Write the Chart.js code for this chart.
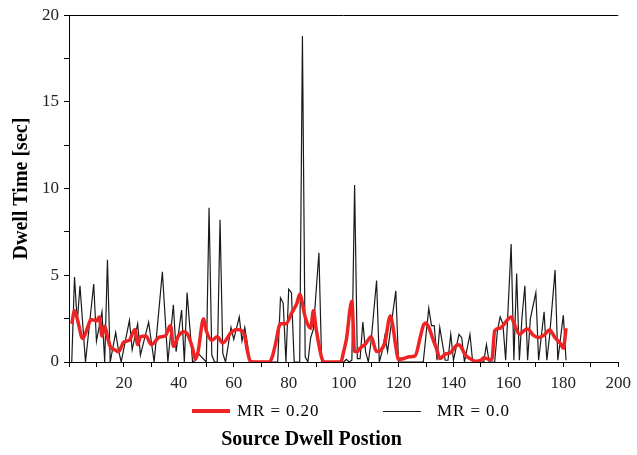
<!DOCTYPE html>
<html>
<head>
<meta charset="utf-8">
<script src="https://cdn.jsdelivr.net/npm/chart.js@4.4.1/dist/chart.umd.min.js"></script>
<style>
html, body { margin: 0; padding: 0; background: #fff; }
#wrap { position: relative; width: 637px; height: 455px; }
.key { position: absolute; top: 400px; height: 22px; display: flex; align-items: center;
       font: 17px 'Liberation Serif', serif; letter-spacing: 0.9px; color: #000; white-space: nowrap; }
.key i { display: inline-block; width: 38px; }
#key0 { left: 192px; }
#key0 i { height: 4px; margin-right: 7px; }
#key1 { left: 383px; }
#key1 i { height: 1px; margin-right: 16px; }
</style>
</head>
<body>
<div id="wrap">
  <canvas id="dwell-chart" width="637" height="455"></canvas>
  <div id="key0" class="key"><i></i><span></span></div>
  <div id="key1" class="key"><i></i><span></span></div>
</div>
<script>
// MR = 0.0 (thin black) - dwell position / dwell time [s]
var mr0Pos = [1, 2, 3, 4, 6, 9, 10, 12, 13, 14,
    15, 17, 18, 19, 22, 23, 25, 26, 29, 31,
    34, 36, 38, 39, 41, 42, 43, 45, 46, 47,
    50, 51, 52, 53, 54, 55, 56, 57, 59, 60,
    62, 63, 64, 66, 76, 77, 78, 79, 80, 81,
    82, 84, 85, 86, 87, 88, 89, 91, 92, 100,
    101, 102, 103, 104, 105, 106, 107, 108, 109, 110,
    112, 113, 114, 115, 116, 119, 120, 129, 131, 132,
    133, 134, 135, 137, 138, 139, 140, 142, 143, 144,
    146, 147, 151, 152, 153, 155, 156, 157, 158, 159,
    161, 162, 163, 164, 165, 166, 167, 168, 170, 171,
    173, 174, 175, 177, 178, 180, 181];
var mr0Val = [0, 4.9, 2.3, 4.4, 0, 4.5, 1.2, 2.9, 0, 5.9,
    0, 1.7, 0.7, 0, 2.4, 0.7, 2.2, 0.4, 2.3, 0,
    5.2, 0, 3.3, 0.6, 3.0, 0, 4.0, 0, 0.1, 0.5,
    0, 8.9, 0.4, 0, 0, 8.2, 0.5, 0, 2.0, 1.3,
    2.6, 1.2, 2.0, 0, 0, 3.7, 3.4, 0, 4.2, 4.0,
    0, 0, 18.8, 0.3, 0, 1.4, 1.9, 6.3, 0, 0,
    0.15, 0, 0.1, 10.2, 0.2, 0.2, 2.3, 0.6, 0, 1.2,
    4.7, 0, 0.6, 1.5, 0.6, 4.1, 0, 0, 3.1, 2.1,
    2.1, 0.1, 2.0, 0.1, 0.1, 1.6, 0.1, 1.6, 1.4, 0,
    1.6, 0, 0, 1.0, 0, 0, 1.8, 2.6, 2.2, 0.1,
    6.8, 0.1, 5.1, 0.1, 2.7, 4.4, 0.1, 2.5, 4.0, 0.1,
    2.9, 0.1, 1.5, 5.3, 0.1, 2.7, 0.1];

// MR = 0.20 (thick red)
var mr20Pos = [1, 2, 3, 5, 7, 8, 10, 11, 12, 13,
    14, 15, 17, 18, 20, 22, 24, 25, 26, 28,
    30, 33, 35, 37, 38, 40, 42, 43, 45, 46,
    47, 49, 50, 52, 54, 56, 59, 61, 63, 64,
    65, 66, 67, 73, 74, 75, 77, 79, 81, 83,
    84, 86, 88, 89, 90, 92, 93, 99, 100, 101,
    103, 104, 105, 106, 108, 110, 112, 115, 117, 118,
    119, 120, 122, 124, 126, 128, 129, 130, 131, 133,
    134, 135, 137, 139, 141, 142, 143, 144, 145, 146,
    148, 150, 151, 153, 154, 155, 157, 158, 160, 161,
    162, 164, 166, 167, 169, 171, 173, 175, 177, 179,
    180, 181];
var mr20Val = [2.2, 2.95, 2.5, 1.36, 2.1, 2.45, 2.37, 2.6, 1.5, 2.07,
    1.45, 0.9, 0.68, 0.6, 1.15, 1.26, 1.88, 1.0, 1.45, 1.5,
    1.0, 1.44, 1.5, 2.1, 0.9, 1.55, 1.75, 1.65, 0.8, 0.15,
    0.6, 2.5, 1.8, 1.26, 1.45, 1.1, 1.7, 1.88, 1.8, 1.5,
    0.6, 0.05, 0, 0, 0.3, 0.9, 2.2, 2.2, 2.8, 3.4,
    3.9, 2.6, 1.95, 2.95, 1.9, 0.25, 0, 0, 0.6, 1.3,
    3.5, 0.6, 0.6, 0.8, 1.05, 1.45, 0.6, 1.1, 2.65, 2.0,
    0.9, 0.15, 0.2, 0.3, 0.35, 1.5, 2.1, 2.25, 2.0, 1.1,
    0.7, 0.2, 0.45, 0.55, 0.95, 1.0, 0.8, 0.5, 0.3, 0.2,
    0.05, 0.1, 0.25, 0.15, 0.15, 1.8, 1.95, 2.1, 2.5, 2.6,
    2.25, 1.6, 1.84, 1.9, 1.55, 1.42, 1.55, 1.85, 1.4, 1.05,
    0.8, 1.95];

var seriesNames = ['MR = 0.20', 'MR = 0.0'];
var seriesColors = ['#ee2424', '#1a1a1a'];
var xLabelEvery = 20;   // x tick labels 20..200
var yLabelEvery = 5;    // y tick labels 0..20

var serif = "'Liberation Serif', 'Times New Roman', serif";

function toPoints(pos, val) {
    var pts = [];
    for (let i = 0; i < pos.length; i++) {
        pts.push({ x: pos[i], y: val[i] });
    }
    return pts;
}

// draw the top frame line
const topLine = {
    id: 'topLine',
    afterDraw(chart) {
        const a = chart.chartArea;
        const ctx = chart.ctx;
        ctx.save();
        ctx.strokeStyle = '#000';
        ctx.lineWidth = 1;
        ctx.beginPath();
        ctx.moveTo(a.left, Math.round(a.top) + 0.5);
        ctx.lineTo(a.right, Math.round(a.top) + 0.5);
        ctx.stroke();
        ctx.restore();
    }
};

// html legend
for (let i = 0; i < seriesNames.length; i++) {
    const key = document.getElementById('key' + i);
    key.querySelector('i').style.background = seriesColors[i];
    key.querySelector('span').textContent = seriesNames[i];
}

new Chart(document.getElementById('dwell-chart'), {
    type: 'line',
    data: {
        datasets: [{
            label: seriesNames[0],
            data: toPoints(mr20Pos, mr20Val),
            borderColor: seriesColors[0],
            borderWidth: 3.5,
            pointRadius: 0,
            cubicInterpolationMode: 'monotone',
            fill: false
        }, {
            label: seriesNames[1],
            data: toPoints(mr0Pos, mr0Val),
            borderColor: seriesColors[1],
            borderWidth: 1.2,
            pointRadius: 0,
            tension: 0,
            fill: false
        }]
    },
    options: {
        responsive: false,
        animation: false,
        layout: { padding: { left: 0, right: 14, top: 14, bottom: 0 } },
        scales: {
            x: {
                type: 'linear',
                min: 0,
                max: 200,
                afterFit: function (s) { s.height = 32; },
                border: { display: true, color: '#000', width: 1 },
                grid: { display: true, drawOnChartArea: false, drawTicks: true, tickLength: 5, color: '#000' },
                ticks: {
                    stepSize: 10,
                    autoSkip: false,
                    maxRotation: 0,
                    padding: 6,
                    color: '#222',
                    font: { family: serif, size: 17 },
                    callback: function (v) { return (v % xLabelEvery === 0 && v !== 0) ? v : ''; }
                }
            },
            y: {
                min: 0,
                max: 20,
                afterFit: function (s) { s.width = 69; },
                border: { display: true, color: '#000', width: 1 },
                grid: { display: true, drawOnChartArea: false, drawTicks: true, tickLength: 5, color: '#000' },
                ticks: {
                    stepSize: 2.5,
                    autoSkip: false,
                    padding: 5,
                    color: '#222',
                    font: { family: serif, size: 17 },
                    callback: function (v) { return v % yLabelEvery === 0 ? v : ''; }
                },
                title: {
                    display: true,
                    text: 'Dwell Time [sec]',
                    color: '#000',
                    padding: { top: 10, bottom: 0 },
                    font: { family: serif, size: 20, weight: 'bold' }
                }
            }
        },
        plugins: {
            legend: { display: false },
            tooltip: { enabled: false },
            title: {
                display: true,
                position: 'bottom',
                text: 'Source Dwell Postion',
                color: '#000',
                padding: { top: 34, bottom: 3 },
                font: { family: serif, size: 20, weight: 'bold' }
            }
        }
    },
    plugins: [topLine]
});
</script>
</body>
</html>
